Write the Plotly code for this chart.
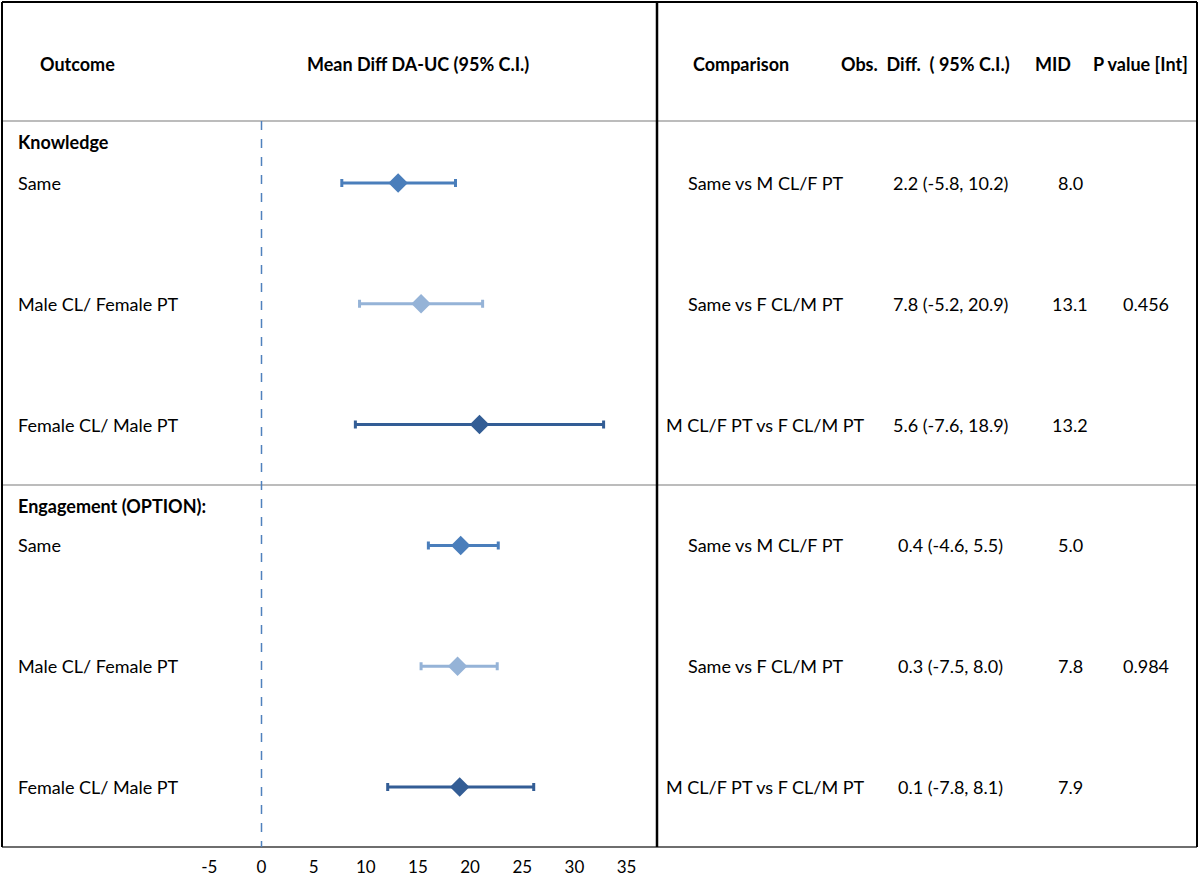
import plotly.graph_objects as go

# ---------------- data ----------------
groups = ["Knowledge", "Engagement (OPTION):"]
subgroups = ["Same", "Male CL/ Female PT", "Female CL/ Male PT"]

knowledge_mean = [13.1, 15.3, 20.9]
knowledge_lo = [7.7, 9.4, 9.0]
knowledge_hi = [18.6, 21.2, 32.8]

engagement_mean = [19.1, 18.8, 19.0]
engagement_lo = [16.0, 15.3, 12.1]
engagement_hi = [22.7, 22.6, 26.1]

comparisons = ["Same vs M CL/F PT", "Same vs F CL/M PT", "M CL/F PT vs F CL/M PT"]
knowledge_diff = ["2.2 (-5.8, 10.2)", "7.8 (-5.2, 20.9)", "5.6 (-7.6, 18.9)"]
knowledge_mid = ["8.0", "13.1", "13.2"]
knowledge_p = "0.456"
engagement_diff = ["0.4 (-4.6, 5.5)", "0.3 (-7.5, 8.0)", "0.1 (-7.8, 8.1)"]
engagement_mid = ["5.0", "7.8", "7.9"]
engagement_p = "0.984"

tick_vals = [-5, 0, 5, 10, 15, 20, 25, 30, 35]
tick_text = ["-5", "0", "5", "10", "15", "20", "25", "30", "35"]
headers_left = ["Outcome", "Mean Diff DA-UC (95% C.I.)"]
headers_right = ["Comparison", "Obs.  Diff.  ( 95% C.I.)", "MID", "P value [Int]"]

colors = ["#4a7ebb", "#95b3d7", "#335d95"]

# ---------------- figure geometry ----------------
W, H = 1200, 878
FONT = "Lato, Carlito, Calibri, sans-serif"
FS = 18


def px(x):
    return x / W


def py(y):
    return 1 - y / H


x0_px, scale = 261.5, 10.43
div_px = 657
x_range = [(0 - x0_px) / scale, (div_px - x0_px) / scale]

row_top_px, row_step = 183, 120.8
plot_top, plot_bot = 121, 847
y_range = [(plot_bot - row_top_px) / row_step, (plot_top - row_top_px) / row_step]

fig = go.Figure()

all_means = [knowledge_mean, engagement_mean]
all_lo = [knowledge_lo, engagement_lo]
all_hi = [knowledge_hi, engagement_hi]

for g in range(2):
    for i in range(3):
        m = all_means[g][i]
        row = g * 3 + i
        fig.add_trace(go.Scatter(
            x=[m], y=[row], mode="markers",
            marker=dict(symbol="diamond", size=15, color=colors[i]),
            error_x=dict(type="data", symmetric=False,
                         array=[all_hi[g][i] - m], arrayminus=[m - all_lo[g][i]],
                         color=colors[i], thickness=3, width=4),
            showlegend=False, hoverinfo="skip",
        ))

annotations = []
# headers
hdr_y = py(64)
annotations.append(dict(x=px(77), y=hdr_y, text="<b>%s</b>" % headers_left[0]))
annotations.append(dict(x=px(418), y=hdr_y, text="<b>%s</b>" % headers_left[1]))
for cx, t in zip([741, 926, 1053, 1140], headers_right):
    annotations.append(dict(x=px(cx), y=hdr_y, text="<b>%s</b>" % t))

# group headers and row labels
group_y = [-0.34, 2.67]
for g in range(2):
    annotations.append(dict(x=px(16), y=group_y[g], yref="y", xanchor="left",
                            text="<b>%s</b>" % groups[g]))
    for i in range(3):
        annotations.append(dict(x=px(16), y=g * 3 + i, yref="y", xanchor="left",
                                text=subgroups[i]))

# right table
diffs = [knowledge_diff, engagement_diff]
mids = [knowledge_mid, engagement_mid]
pvals = [knowledge_p, engagement_p]
for g in range(2):
    for i in range(3):
        row = g * 3 + i
        annotations.append(dict(x=px(765), y=row, yref="y", text=comparisons[i]))
        annotations.append(dict(x=px(950), y=row, yref="y", text=diffs[g][i]))
        annotations.append(dict(x=px(1070), y=row, yref="y", text=mids[g][i]))
    annotations.append(dict(x=px(1146), y=g * 3 + 1, yref="y", text=pvals[g]))

for a in annotations:
    a.setdefault("xref", "paper")
    a.setdefault("yref", "paper")
    a.setdefault("xanchor", "center")
    a["yanchor"] = "middle"
    a["showarrow"] = False
    a["font"] = dict(family=FONT, size=FS, color="#000000")

shapes = [
    # gray horizontal rules
    dict(type="line", xref="paper", yref="paper", x0=px(2), x1=px(1197), y0=py(121), y1=py(121),
         line=dict(color="#a6a6a6", width=1.5)),
    dict(type="line", xref="paper", yref="paper", x0=px(2), x1=px(1197), y0=py(485), y1=py(485),
         line=dict(color="#a6a6a6", width=1.5)),
    # bottom rule
    dict(type="line", xref="paper", yref="paper", x0=px(2), x1=px(1197), y0=py(847), y1=py(847),
         line=dict(color="#6e6e6e", width=2)),
    # top, left, right borders
    dict(type="line", xref="paper", yref="paper", x0=px(2), x1=px(1197), y0=py(2), y1=py(2),
         line=dict(color="#000000", width=2)),
    dict(type="line", xref="paper", yref="paper", x0=px(2), x1=px(2), y0=py(2), y1=py(847),
         line=dict(color="#000000", width=2)),
    dict(type="line", xref="paper", yref="paper", x0=px(1197), x1=px(1197), y0=py(2), y1=py(847),
         line=dict(color="#000000", width=2)),
    # central divider
    dict(type="line", xref="paper", yref="paper", x0=px(div_px), x1=px(div_px), y0=py(2), y1=py(847),
         line=dict(color="#000000", width=2.5)),
    # zero reference line
    dict(type="line", xref="x", yref="paper", x0=0, x1=0, y0=py(plot_top), y1=py(plot_bot),
         line=dict(color="#4f81bd", width=1.5, dash="dash")),
]

fig.update_layout(
    width=W, height=H,
    margin=dict(l=0, r=0, t=0, b=0, autoexpand=False),
    paper_bgcolor="white", plot_bgcolor="white",
    font=dict(family=FONT, size=FS, color="#000000"),
    xaxis=dict(domain=[0, px(div_px)], range=x_range, tickvals=tick_vals, ticktext=tick_text,
               ticks="outside", ticklen=5, tickcolor="rgba(0,0,0,0)", automargin=False,
               showgrid=False, zeroline=False, showline=False,
               tickfont=dict(family=FONT, size=17, color="#000000")),
    yaxis=dict(domain=[py(plot_bot), py(plot_top)], range=y_range, automargin=False,
               showticklabels=False, showgrid=False, zeroline=False, showline=False),
    annotations=annotations,
    shapes=shapes,
)

post = (
    "var d=document.getElementById('{plot_id}');"
    "d.style.position='absolute';d.style.left='0px';d.style.top='0px';"
    "document.body.style.margin='0';"
    "document.documentElement.style.overflow='hidden';"
    "document.body.style.overflow='hidden';"
)

fig.write_html(
    "out.html",
    config={"displayModeBar": False},
    post_script=post,
)
